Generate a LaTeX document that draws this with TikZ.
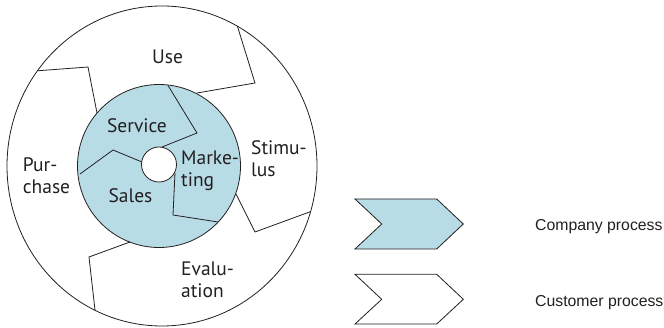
\documentclass[tikz,border=0pt]{standalone}
\usepackage{fontspec}
\setmainfont{Liberation Sans}
\newfontfamily\wheelfont{PT Sans}
\usetikzlibrary{positioning}
\definecolor{companyblue}{HTML}{B7DCE6}
\definecolor{linegray}{HTML}{231F20}

\begin{document}
\begin{tikzpicture}[
    x=1pt, y=-1pt,
    outline/.style={draw=linegray, line width=0.8pt, line join=miter},
    company/.style={outline, fill=companyblue},
    customer/.style={outline, fill=white},
    phase/.style={font=\wheelfont\fontsize{19.5}{22.5}\selectfont, align=left,
                  inner sep=0pt, text=linegray},
    legendtext/.style={font=\fontsize{15.8}{18}\selectfont, inner sep=0pt,
                       anchor=base west, text=linegray}
]
\useasboundingbox (0,0) rectangle (664,328);

% Centres of the wheel
\coordinate (hub) at (159,166);
\coordinate (hole) at (159,164.5);
\coordinate (rim) at (162,166);

% Company ring and customer ring
\draw[company] (hub) circle [radius=81.5pt];
\draw[customer] (hole) circle [radius=17.5pt];
\draw[outline] (rim) ellipse [x radius=155pt, y radius=160pt];

% Customer process borders
\draw[outline] (37.4,70.8) -- (88,67) -- (97,113);
\draw[outline] (237.4,26.2) -- (255,83) -- (197,93);
\draw[outline] (310.6,211.6) -- (255,232) -- (236,194);
\draw[outline] (95,310) -- (89,257) -- (130,242);

% Company process borders
\draw[outline] (168,85.5) -- (197,133) -- (162,147);
\draw[outline] (80,174) -- (113,150) -- (142,162);
\draw[outline] (175,173) -- (173,215) -- (218,222);

% Phase labels (base = last line)
\node[phase, anchor=base] (use) at (167.5,64) {Use};
\node[phase, anchor=base west] (stimulus) at (251,177) {Stimu-\\lus};
\node[phase, anchor=base west] (evaluation) at (181,298) {Evalu-\\ation};
\node[phase, anchor=base west] (purchase) at (22.7,194) {Pur-\\chase};
\node[phase, anchor=base] (service) at (137,133) {Service};
\node[phase, anchor=base] (sales) at (130.5,203) {Sales};
\node[phase, anchor=base west] (marketing) at (181,187) {Marke-\\ting};

% Legend
\draw[company] (355,199) -- (436.7,199) -- (463.3,224) -- (436.7,249)
    -- (355,249) -- (381.7,224) -- cycle;
\draw[customer] (355,274.3) -- (436.7,274.3) -- (463.3,299.3) -- (436.7,324)
    -- (355,324) -- (381.7,299.3) -- cycle;
\node[legendtext] (companylabel) at (535,231) {Company process};
\node[legendtext] (customerlabel) at (535,307) {Customer process};

\end{tikzpicture}
\end{document}
